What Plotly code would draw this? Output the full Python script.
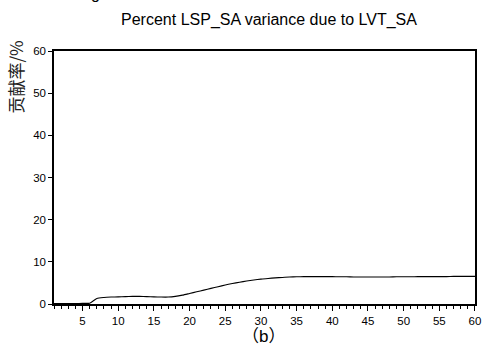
import plotly.graph_objects as go

x_vals = list(range(1, 61))
contrib = [0.1, 0.1, 0.1, 0.12, 0.15, 0.2, 1.3, 1.55, 1.65, 1.7,
           1.75, 1.8, 1.8, 1.75, 1.7, 1.65, 1.65, 1.8, 2.1, 2.5,
           2.9, 3.3, 3.7, 4.1, 4.5, 4.85, 5.15, 5.45, 5.7, 5.9,
           6.05, 6.2, 6.3, 6.4, 6.45, 6.5, 6.5, 6.5, 6.5, 6.5,
           6.45, 6.45, 6.4, 6.4, 6.4, 6.4, 6.4, 6.4, 6.45, 6.45,
           6.45, 6.5, 6.5, 6.5, 6.5, 6.5, 6.55, 6.55, 6.55, 6.55]
x_ticks = [5, 10, 15, 20, 25, 30, 35, 40, 45, 50, 55, 60]
y_ticks = [0, 10, 20, 30, 40, 50, 60]

title_text = "Percent LSP_SA variance due to LVT_SA"
y_label = "贡献率/%"
panel_label = "（b）"

W, H = 484, 347
L, R, T, B = 54, 3, 51, 43
pw, ph = W - L - R, H - T - B

def px(x):
    return (x - L) / pw

def py(y):
    return (H - B - y) / ph

fig = go.Figure()
fig.add_trace(go.Scatter(x=x_vals, y=contrib, mode="lines",
                         line=dict(color="black", width=1.1, shape="spline", smoothing=0.6),
                         showlegend=False, hoverinfo="skip", cliponaxis=False))

font = "Liberation Sans, Arial, sans-serif"
fig.update_layout(
    width=W, height=H,
    margin=dict(l=L, r=R, t=T, b=B),
    paper_bgcolor="white", plot_bgcolor="white",
    font=dict(family=font, color="black"),
    title=dict(text=title_text, xref="container", yref="container",
               x=269 / W, xanchor="center", y=1 - 19 / H, yanchor="middle",
               font=dict(size=16, family=font, color="black")),
    xaxis=dict(range=[0.999, 60.001], tickvals=x_ticks, ticks="outside", ticklen=5, tickwidth=1,
               tickcolor="black", showline=True, linecolor="black", linewidth=1.5, mirror=True,
               showgrid=False, zeroline=False, tickfont=dict(size=11.5, family=font),
               ticklabeloverflow="allow",
               minor=dict(dtick=1, tick0=1, ticks="outside", ticklen=3, tickcolor="black", showgrid=False)),
    yaxis=dict(range=[0, 60], tickvals=y_ticks, ticks="outside", ticklen=4, tickwidth=1,
               tickcolor="black", showline=True, linecolor="black", linewidth=1.5, mirror=True,
               showgrid=False, zeroline=False, tickfont=dict(size=11.5, family=font)),
)

fig.add_annotation(text=y_label, xref="paper", yref="paper", x=px(15), y=py(77),
                   xanchor="center", yanchor="middle", textangle=-90, showarrow=False,
                   font=dict(size=17, family="Noto Sans CJK SC", color="#222"))
fig.add_annotation(text=panel_label, xref="paper", yref="paper", x=px(266), y=py(336),
                   xanchor="center", yanchor="middle", showarrow=False,
                   font=dict(size=17, family="Liberation Sans, Noto Sans CJK SC", color="black"))
fig.add_annotation(text="g", xref="paper", yref="paper", x=px(96), y=py(4),
                   xanchor="center", yanchor="bottom", showarrow=False,
                   font=dict(size=16, family=font, color="black"))

fig.write_html("out.html")
